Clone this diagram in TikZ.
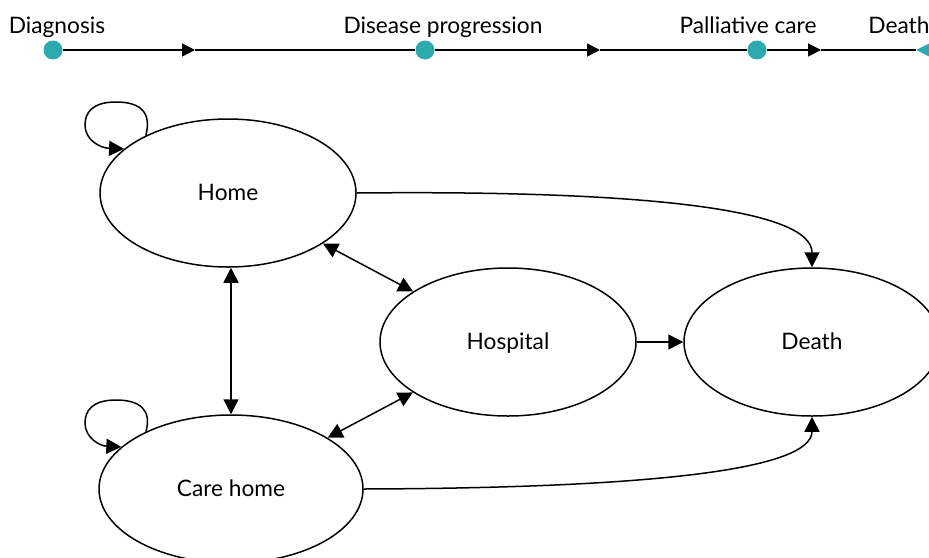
\documentclass[tikz,border=0pt]{standalone}
\usepackage{fontspec}
\setmainfont{Lato}
\usetikzlibrary{arrows.meta,shapes.geometric}
\definecolor{teal}{RGB}{43,170,176}
\tikzset{
  state/.style={ellipse, draw, line width=1.5pt, minimum width=256pt, minimum height=148pt, inner sep=0pt},
  statetext/.style={font=\fontsize{22.7}{26}\selectfont, inner sep=0pt, anchor=base},
  conn/.style={line width=1.5pt, -{Triangle[length=15pt,width=15pt]}},
  biconn/.style={line width=1.5pt, {Triangle[length=15pt,width=15pt]}-{Triangle[length=15pt,width=15pt]}},
  tline/.style={line width=1.5pt},
  tarrow/.style={line width=1.5pt, -{Triangle[length=13pt,width=13pt]}},
  event/.style={circle, fill=teal, minimum size=19pt, inner sep=0pt},
  evlabel/.style={font=\fontsize{22.7}{26}\selectfont, inner sep=0pt, anchor=base},
}
\begin{document}
\begin{tikzpicture}[x=1pt, y=-1pt]
\useasboundingbox (0,0) rectangle (929,557);

% timeline
\node[event] (diag) at (53,50) {};
\node[event] (prog) at (425,50) {};
\node[event] (pall) at (757,50) {};
\coordinate (dth) at (916,50);
\fill[teal] (dth) -- (936,40) -- (936,60) -- cycle;
\coordinate (m1) at (195,50);
\coordinate (m2) at (600,50);
\coordinate (m3) at (821,50);
\draw[tarrow] (diag) -- (m1);
\draw[tline] (m1) -- (prog);
\draw[tarrow] (prog) -- (m2);
\draw[tline] (m2) -- (pall);
\draw[tarrow] (pall) -- (m3);
\draw[tline] (m3) -- (dth);
\node[evlabel] (ldiag) at (57,33) {Diagnosis};
\node[evlabel] (lprog) at (443,33) {Disease progression};
\node[evlabel] (lpall) at (748,33) {Palliative care};
\node[evlabel] (ldth) at (899,33) {Death};

% states
\node[state] (home) at (228,193) {};
\node[state] (hosp) at (508,342) {};
\node[state] (death) at (812,342) {};
\node[state, minimum width=264pt] (care) at (231,489) {};
\node[statetext] (thome) at (228,200.5) {Home};
\node[statetext] (thosp) at (508,349) {Hospital};
\node[statetext] (tdeath) at (812,349) {Death};
\node[statetext] (tcare) at (231,496.5) {Care home};

% self loops
\draw[conn] (home.145) .. controls (152,112) and (140,102) .. (116,102)
  .. controls (92,102) and (85,113) .. (85,125)
  .. controls (85,140) and (100,148) .. (home.157);
\draw[conn] (care.146) .. controls (152,410) and (140,400) .. (116,400)
  .. controls (92,400) and (85,411) .. (85,423)
  .. controls (85,438) and (100,446) .. (care.159);

% transitions
\draw[biconn] (home) -- (hosp);
\draw[biconn] (care) -- (hosp);
\draw[biconn] (home.south -| care.north) -- (care.north);
\draw[conn] (hosp.east) -- (death.west);
\draw[conn] (home.east) .. controls (650,190) and (812,210) .. (death.north);
\draw[conn] (care.east) .. controls (650,488) and (812,470) .. (death.south);
\end{tikzpicture}
\end{document}
